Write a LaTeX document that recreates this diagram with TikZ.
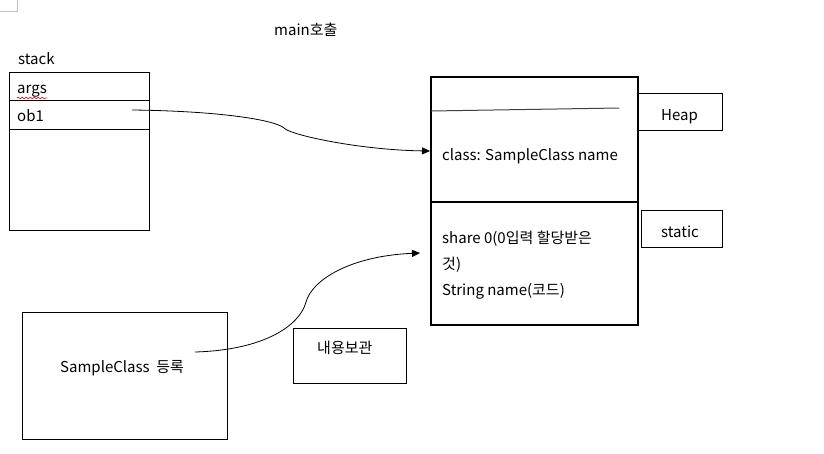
\documentclass[tikz,border=0pt]{standalone}
\usepackage{fontspec}
\setmainfont{Noto Sans CJK KR}
\usetikzlibrary{arrows.meta,decorations.pathmorphing}
\begin{document}
\begin{tikzpicture}[x=1pt,y=-1pt,
    every node/.style={inner sep=0pt,font=\fontsize{15}{26}\selectfont},
    txt/.style={anchor=base west},
    box/.style={draw=black,line width=0.8pt,anchor=north west},
    memory/.style={draw=black,line width=1.8pt,anchor=north west},
    link/.style={black,line width=0.8pt,-{Triangle[length=8pt,width=7pt]}}]
  \useasboundingbox (0,0) rectangle (824,453);
  \draw [black!25] (0,11) -- (17,11) -- (17,0);
  \node [txt] (title) at (274,35) {main호출};
  % stack
  \node [txt] (stacklbl) at (18,64) {stack};
  \node [box,minimum width=140,minimum height=28] (args) at (9,72) {};
  \node [box,minimum width=140,minimum height=29] (ob) at (9,100) {};
  \node [box,minimum width=140,minimum height=101] (rest) at (9,129) {};
  \node [txt] (argstxt) at (17,93) {args};
  \draw [red,line width=0.6pt,decorate,decoration={snake,amplitude=0.8pt,segment length=4pt}] (17,98) -- (47,98);
  \node [txt] (obtxt) at (17,121) {ob1};
  % heap / static
  \node [memory,minimum width=207,minimum height=125] (heap) at (430,76) {};
  \node [memory,minimum width=207,minimum height=123] (static) at (430,201) {};
  \draw [black!75,line width=1pt] (431,111) -- (619,108);
  \node [txt] (classtxt) at (442,160) {class: SampleClass name};
  \node [txt,align=left] (fields) at (442,295) {share 0(0입력 할당받은\\것)\\String name(코드)};
  \node [box,minimum width=84,minimum height=37] (heaplbl) at (638,93) {};
  \node [txt] (heaptxt) at (661,120) {Heap};
  \node [box,minimum width=81,minimum height=37] (staticlbl) at (641,210) {};
  \node [txt] (statictxt) at (661,237) {static};
  % class area
  \node [box,minimum width=205,minimum height=127] (sample) at (22,312) {};
  \node [txt] (sampletxt) at (60,372) {SampleClass\ \ 등록};
  \node [box,minimum width=113,minimum height=55] (keep) at (293,328) {};
  \node [txt] (keeptxt) at (317,353) {내용보관};
  % connectors
  \coordinate (obstart) at (132,110);
  \coordinate (regstart) at (195,352);
  \coordinate (regend) at ([xshift=-10]static.west |- 0,253);
  \draw [link] (obstart) .. controls (220,111) and (275,120) .. (284,128)
    .. controls (290,135) and (360,150) .. (heap.west |- 0,151);
  \draw [link] (regstart) .. controls (265,350) and (300,325) .. (306,302)
    .. controls (312,280) and (350,256) .. (regend);
\end{tikzpicture}
\end{document}
